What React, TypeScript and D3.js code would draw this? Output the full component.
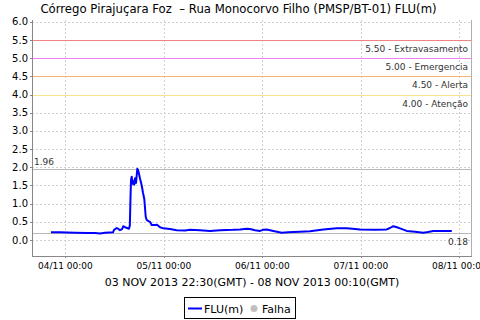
import React from "react";
import * as d3 from "d3";

// hours relative to 04/11 00:00 (local time), value in m
const hours = [-3.5, -1.29, 2.36, 5.53, 7.24, 8.46, 9.67, 11.62, 11.87, 12.52, 12.84, 13.33, 13.82, 14.13, 14.55, 15.04, 15.52, 15.72, 15.89, 16.01, 16.18, 16.37, 16.57, 16.79, 16.98, 17.23, 17.54, 17.79, 18.2, 18.62, 18.93, 19.25, 19.59, 19.83, 20.27, 20.64, 21.05, 21.86, 22.34, 23.08, 23.88, 25.52, 27.14, 29.17, 30.39, 32.82, 35.26, 37.7, 40.86, 42.57, 44.2, 45.0, 46.23, 47.44, 48.17, 49.07, 49.88, 50.68, 52.73, 54.26, 55.56, 57.19, 59.63, 62.87, 66.13, 68.57, 70.59, 71.81, 75.46, 78.31, 79.12, 79.92, 80.82, 81.55, 83.19, 85.21, 87.23, 88.38, 89.67, 92.52, 94.17];
const values = [0.21, 0.21, 0.2, 0.19, 0.19, 0.18, 0.2, 0.21, 0.28, 0.33, 0.31, 0.27, 0.3, 0.38, 0.35, 0.33, 0.31, 0.4, 1.2, 1.65, 1.74, 1.55, 1.62, 1.52, 1.7, 1.57, 1.96, 1.9, 1.69, 1.5, 1.3, 1.12, 0.64, 0.55, 0.52, 0.5, 0.41, 0.41, 0.42, 0.35, 0.32, 0.3, 0.27, 0.26, 0.28, 0.27, 0.25, 0.27, 0.28, 0.29, 0.31, 0.3, 0.27, 0.25, 0.28, 0.29, 0.27, 0.25, 0.2, 0.21, 0.22, 0.23, 0.24, 0.29, 0.32, 0.32, 0.3, 0.29, 0.28, 0.29, 0.33, 0.38, 0.35, 0.32, 0.25, 0.23, 0.2, 0.22, 0.25, 0.25, 0.25];

const xTickHours = [0, 24, 48, 72, 96];
const xTickLabels = ["04/11 00:00", "05/11 00:00", "06/11 00:00", "07/11 00:00", "08/11 00:00"];
const yTicks = [0, 0.5, 1, 1.5, 2, 2.5, 3, 3.5, 4, 4.5, 5, 5.5, 6];

const thresholdValues = [5.5, 5.0, 4.5, 4.0];
const thresholdLabels = ["5.50 - Extravasamento", "5.00 - Emergencia", "4.50 - Alerta", "4.00 - Atenção"];
const thresholdColors = ["#f08484", "#f080f0", "#f8b070", "#f8e48c"];

const maxValue = 1.96;
const minValue = 0.18;

const title = "Córrego Pirajuçara Foz  – Rua Monocorvo Filho (PMSP/BT-01) FLU(m)";
const xLabel = "03 NOV 2013 22:30(GMT) - 08 NOV 2013 00:10(GMT)";

export default function App() {
  const W = 480, H = 320;
  const left = 32, right = 472, top = 20, bottom = 256;
  const x = d3.scaleLinear().domain([-8.12, 99.1]).range([left, right]);
  const y = d3.scaleLinear().domain([-0.44, 6.05]).range([bottom, top]);
  const pts = hours.map((h, i) => [h, values[i]] as [number, number]);
  const line = d3.line<[number, number]>().x(d => x(d[0])).y(d => y(d[1]));
  const font = "DejaVu Sans, sans-serif";

  return (
    <svg width={W} height={H} style={{ position: "absolute", left: 0, top: 0, background: "#fff" }} fontFamily={font}>
      <rect width={W} height={H} fill="#fff" />
      <text x={238.5} y={13} textAnchor="middle" fontSize={11.7} fill="#000" style={{ whiteSpace: "pre" }}>{title}</text>
      {/* gridlines */}
      {yTicks.map(t => (
        <line key={"gy" + t} x1={left} x2={right} y1={Math.round(y(t)) + 0.5} y2={Math.round(y(t)) + 0.5} stroke="#d0d0d0" strokeDasharray="2,2" />
      ))}
      {xTickHours.map(t => (
        <line key={"gx" + t} x1={Math.round(x(t)) + 0.5} x2={Math.round(x(t)) + 0.5} y1={top} y2={bottom} stroke="#d0d0d0" strokeDasharray="2,2" />
      ))}
      {/* thresholds */}
      {thresholdValues.map((v, i) => (
        <g key={"th" + i}>
          <line x1={left} x2={right} y1={Math.round(y(v)) + 0.5} y2={Math.round(y(v)) + 0.5} stroke={thresholdColors[i]} />
          <text x={right - 4} y={y(v) + 12} textAnchor="end" fontSize={9} fill="#333">{thresholdLabels[i]}</text>
        </g>
      ))}
      {/* max / min markers */}
      <line x1={left} x2={right} y1={Math.round(y(maxValue)) + 0.5} y2={Math.round(y(maxValue)) + 0.5} stroke="#b8b8b8" />
      <text x={left + 2} y={y(maxValue) - 4} fontSize={9} fill="#333">{maxValue.toFixed(2)}</text>
      <line x1={left} x2={right} y1={Math.round(y(minValue)) + 0.5} y2={Math.round(y(minValue)) + 0.5} stroke="#b8b8b8" />
      <text x={right - 4} y={y(minValue) + 12} textAnchor="end" fontSize={9} fill="#333">{minValue.toFixed(2)}</text>
      {/* data line */}
      <path d={line(pts) || ""} fill="none" stroke="#0000ff" strokeWidth={2} strokeLinejoin="round" />
      {/* axes */}
      <line x1={left + 0.5} x2={left + 0.5} y1={top} y2={bottom} stroke="#888" />
      <line x1={right - 0.5} x2={right - 0.5} y1={top} y2={bottom} stroke="#b0b0b0" />
      <line x1={left} x2={right} y1={bottom + 0.5} y2={bottom + 0.5} stroke="#888" />
      {yTicks.map(t => (
        <g key={"yt" + t}>
          <line x1={left - 2} x2={left} y1={Math.round(y(t)) + 0.5} y2={Math.round(y(t)) + 0.5} stroke="#888" />
          <text x={left - 4} y={y(t) + 3.5} textAnchor="end" fontSize={10} fill="#000">{t.toFixed(1)}</text>
        </g>
      ))}
      {xTickHours.map((t, i) => (
        <g key={"xt" + t}>
          <line x1={Math.round(x(t)) + 0.5} x2={Math.round(x(t)) + 0.5} y1={bottom} y2={bottom + 2} stroke="#888" />
          <text x={x(t)} y={269} textAnchor="middle" fontSize={9} fill="#000">{xTickLabels[i]}</text>
        </g>
      ))}
      <text x={252} y={286} textAnchor="middle" fontSize={11} fill="#000">{xLabel}</text>
      {/* legend */}
      <rect x={184.5} y={297.5} width={111} height={21} fill="#fff" stroke="#000" />
      <line x1={188} x2={202} y1={308.5} y2={308.5} stroke="#0000ff" strokeWidth={2} />
      <text x={204} y={312.5} fontSize={11} fill="#000">FLU(m)</text>
      <circle cx={254} cy={308.5} r={3.5} fill="#c0c0c0" />
      <text x={262} y={312.5} fontSize={11} fill="#000">Falha</text>
    </svg>
  );
}
